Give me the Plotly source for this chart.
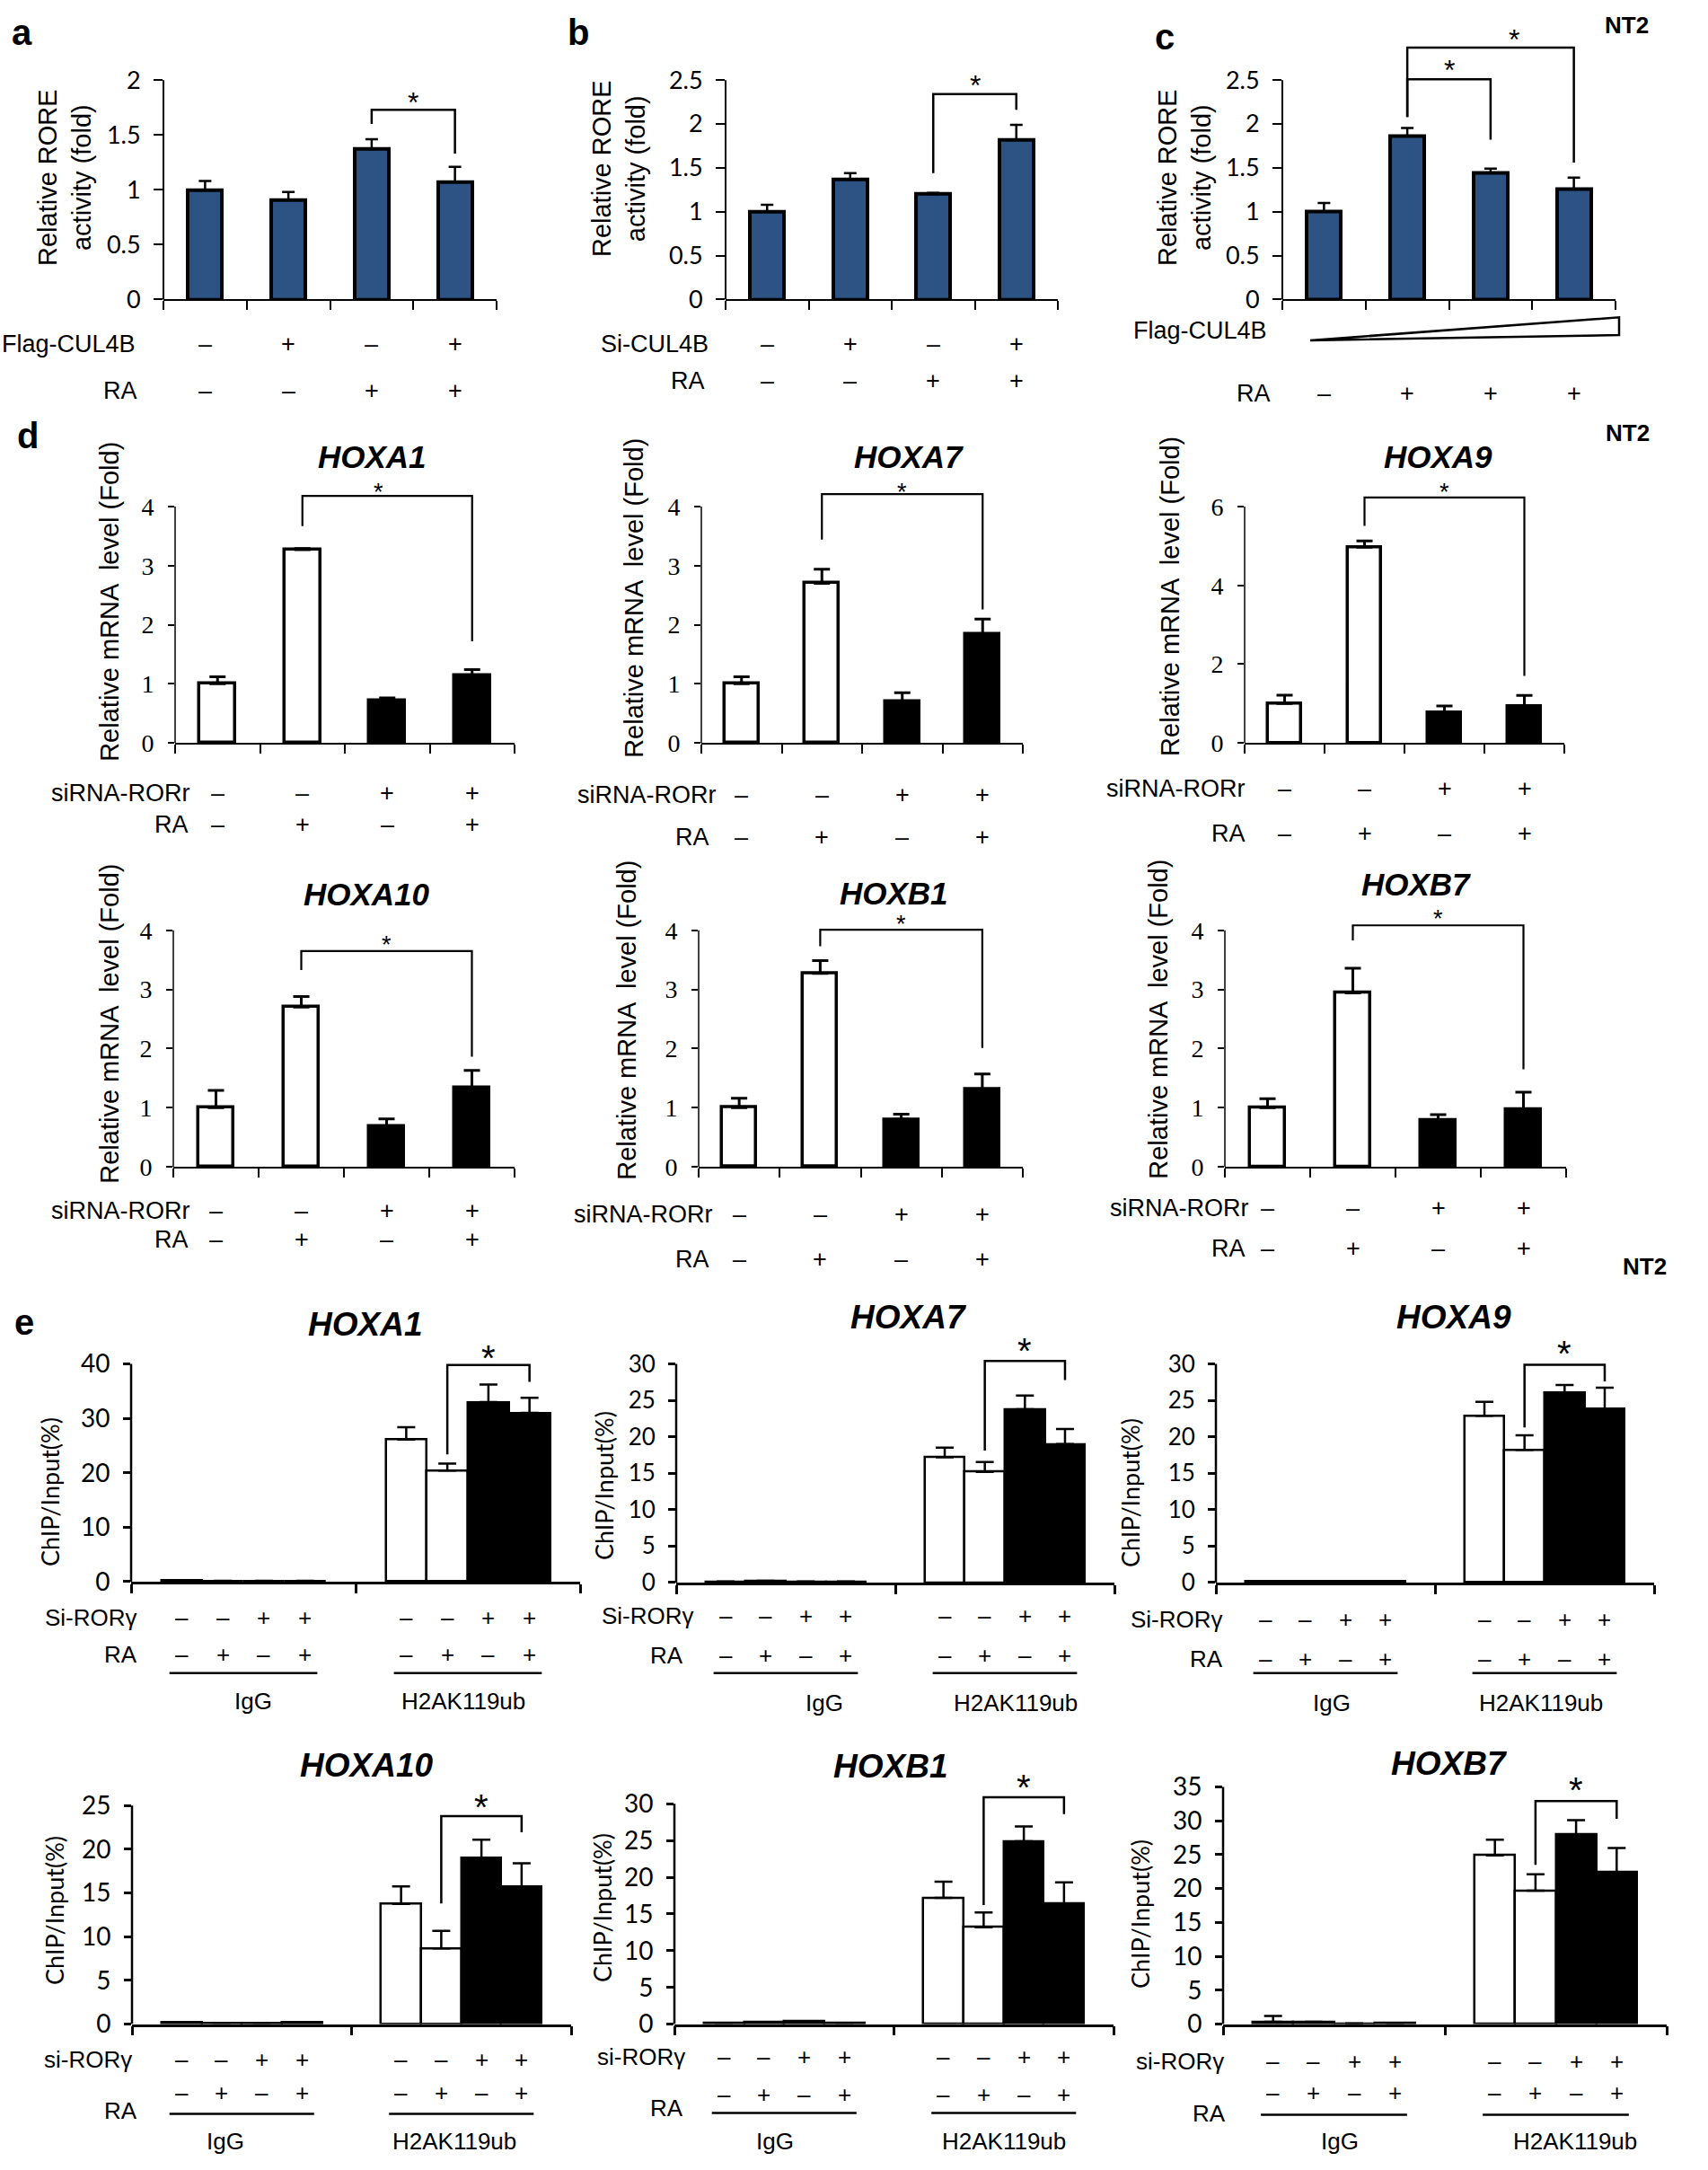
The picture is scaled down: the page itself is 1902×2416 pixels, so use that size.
import plotly.graph_objects as go

W, H = 1902, 2416

# ---------------- data ----------------
# panel a-c: RORE luciferase activity
rore_a = [1.00, 0.91, 1.37, 1.07]
rore_a_err = [0.08, 0.07, 0.09, 0.14]
rore_b = [1.00, 1.37, 1.20, 1.82]
rore_b_err = [0.08, 0.07, 0.015, 0.17]
rore_c = [1.00, 1.865, 1.44, 1.26]
rore_c_err = [0.10, 0.09, 0.05, 0.13]

# panel d: relative mRNA level
mrna_hoxa1 = [1.00, 3.27, 0.71, 1.14]
mrna_hoxa1_err = [0.12, 0.02, 0.05, 0.10]
mrna_hoxa7 = [1.00, 2.70, 0.70, 1.845]
mrna_hoxa7_err = [0.12, 0.24, 0.15, 0.25]
mrna_hoxa9 = [1.00, 4.97, 0.77, 0.925]
mrna_hoxa9_err = [0.21, 0.16, 0.17, 0.28]
mrna_hoxa10 = [1.00, 2.70, 0.68, 1.34]
mrna_hoxa10_err = [0.29, 0.18, 0.13, 0.29]
mrna_hoxb1 = [1.00, 3.27, 0.80, 1.31]
mrna_hoxb1_err = [0.16, 0.22, 0.09, 0.26]
mrna_hoxb7 = [1.00, 2.94, 0.78, 0.97]
mrna_hoxb7_err = [0.15, 0.42, 0.10, 0.29]

# panel e: ChIP/Input (%)
chip_hoxa1_igg = [0.30, 0.15, 0.15, 0.15]
chip_hoxa1_igg_err = [0, 0, 0, 0]
chip_hoxa1_h2a = [26.1, 20.4, 33.0, 31.0]
chip_hoxa1_h2a_err = [2.3, 1.3, 3.2, 2.8]
chip_hoxa7_igg = [0.15, 0.25, 0.15, 0.15]
chip_hoxa7_igg_err = [0, 0, 0, 0]
chip_hoxa7_h2a = [17.2, 15.2, 23.8, 19.0]
chip_hoxa7_h2a_err = [1.3, 1.35, 1.85, 2.06]
chip_hoxa9_igg = [0.15, 0.15, 0.15, 0.20]
chip_hoxa9_igg_err = [0, 0, 0, 0]
chip_hoxa9_h2a = [22.9, 18.2, 26.1, 23.8]
chip_hoxa9_h2a_err = [1.9, 2.0, 1.0, 2.95]
chip_hoxa10_igg = [0.25, 0.15, 0.15, 0.20]
chip_hoxa10_igg_err = [0, 0, 0, 0]
chip_hoxa10_h2a = [13.75, 8.67, 19.0, 15.7]
chip_hoxa10_h2a_err = [2.0, 2.0, 2.1, 2.7]
chip_hoxb1_igg = [0.15, 0.25, 0.40, 0.15]
chip_hoxb1_igg_err = [0, 0, 0, 0]
chip_hoxb1_h2a = [17.2, 13.2, 24.9, 16.4]
chip_hoxb1_h2a_err = [2.2, 2.0, 2.0, 2.9]
chip_hoxb7_igg = [0.35, 0.35, 0.10, 0.15]
chip_hoxb7_igg_err = [0.85, 0, 0, 0]
chip_hoxb7_h2a = [24.9, 19.7, 28.0, 22.4]
chip_hoxb7_h2a_err = [2.3, 2.4, 2.1, 3.6]

# condition sign rows
signs_flag_a = ["–", "+", "–", "+"]
signs_ra_a = ["–", "–", "+", "+"]
signs_si_b = ["–", "+", "–", "+"]
signs_ra_b = ["–", "–", "+", "+"]
signs_ra_c = ["–", "+", "+", "+"]
signs_sirna_d = ["–", "–", "+", "+"]
signs_ra_d = ["–", "+", "–", "+"]
signs_si_e = ["–", "–", "+", "+"]
signs_ra_e = ["–", "+", "–", "+"]
groups_e = ["IgG", "H2AK119ub"]

# tick values
ticks_a = [0, 0.5, 1, 1.5, 2]
ticks_bc = [0, 0.5, 1, 1.5, 2, 2.5]
ticks_d = [0, 1, 2, 3, 4]
ticks_d_hoxa9 = [0, 2, 4, 6]
ticks_e40 = [0, 10, 20, 30, 40]
ticks_e30 = [0, 5, 10, 15, 20, 25, 30]
ticks_e25 = [0, 5, 10, 15, 20, 25]
ticks_e35 = [0, 5, 10, 15, 20, 25, 30, 35]

# significance brackets:
# (left bar, right bar, top, left-leg end, right-leg end, star height, star x offset)
br_a = [(2, 3, 1.73, 1.60, 1.33, 1.86, 0)]
br_b = [(2, 3, 2.34, 1.44, 2.16, 2.52, 0)]
br_c = [(1, 2, 2.51, 2.08, 1.82, 2.69, 0), (1, 3, 2.87, 2.08, 1.56, 3.04, 0.28)]
br_d_hoxa1 = [(1, 3, 4.18, 3.67, 1.72, 4.34, -0.1)]
br_d_hoxa7 = [(1, 3, 4.21, 3.44, 2.26, 4.34, 0)]
br_d_hoxa9 = [(1, 3, 6.23, 5.51, 1.70, 6.52, 0)]
br_d_hoxa10 = [(1, 3, 3.65, 3.33, 1.86, 3.86, 0)]
br_d_hoxb1 = [(1, 3, 4.01, 3.73, 2.01, 4.21, 0)]
br_d_hoxb7 = [(1, 3, 4.085, 3.83, 1.65, 4.29, 0)]
br_e_hoxa1 = [(5, 7, 39.8, 23.4, 36.7, 42.7, 0)]
br_e_hoxa7 = [(5, 7, 30.4, 18.1, 27.8, 33.0, 0)]
br_e_hoxa9 = [(5, 7, 29.9, 21.3, 27.6, 32.6, 0)]
br_e_hoxa10 = [(5, 7, 23.8, 13.8, 21.95, 25.85, 0)]
br_e_hoxb1 = [(5, 7, 30.9, 16.2, 28.6, 33.4, 0)]
br_e_hoxb7 = [(5, 7, 32.9, 23.5, 30.3, 35.8, 0)]

# ---------------- styling / geometry ----------------
SANS = "Liberation Sans, Arial, sans-serif"
CAL = "Lato, Liberation Sans, sans-serif"
SERIF = "Liberation Serif, Times New Roman, serif"
BLUE = "#2c5384"
EW = 0.183  # bar width in group units (panel e)


def fx(p):
    return p / W


def fy(p):
    return 1 - p / H


layout = dict(width=W, height=H, margin=dict(l=0, r=0, t=0, b=0),
              paper_bgcolor="white", plot_bgcolor="white", showlegend=False,
              font=dict(family=SANS, color="black", size=24), bargap=0)
shapes, annotations, traces = [], [], []


def ids(n):
    return ("x" if n == 1 else f"x{n}"), ("y" if n == 1 else f"y{n}")


def keys(n):
    return ("xaxis" if n == 1 else f"xaxis{n}"), ("yaxis" if n == 1 else f"yaxis{n}")


def top_of(ticks, brs):
    return max([ticks[-1]] + [b[2] for b in brs] + [b[5] for b in brs]) * 1.03


def setup_axes(n, g, ticks, R, tickfont, xrange, xtickvals, lw, yticklen, standoff):
    xid, yid = ids(n)
    xk, yk = keys(n)
    T = ticks[-1]
    d0 = fy(g["y0"])
    d1 = fy(g["y0"] - (g["y0"] - g["yT"]) * R / T)
    layout[xk] = dict(domain=[fx(g["xl"]), fx(g["xr"])], anchor=yid, range=xrange,
                      showline=True, linecolor="black", linewidth=lw, ticks="outside",
                      tickvals=xtickvals, ticklen=10, tickwidth=lw, tickcolor="black",
                      showticklabels=False, showgrid=False, zeroline=False, fixedrange=True)
    layout[yk] = dict(domain=[d0, d1], anchor=xid, range=[0, R], showline=False,
                      ticks="outside", tickvals=ticks, ticktext=[f"{v:g}" for v in ticks],
                      ticklen=yticklen, tickwidth=lw, tickcolor="black", tickfont=tickfont,
                      showgrid=False, zeroline=False, ticklabelstandoff=standoff,
                      fixedrange=True)
    shapes.append(dict(type="line", xref=xid + " domain", yref=yid, x0=0, x1=0, y0=0, y1=T,
                       line=dict(color="black", width=lw), layer="above"))


def add_brackets(n, xs, brs, lw, star_size, star_font):
    xid, yid = ids(n)
    for (i, j, top, yl, yr, ys, sdx) in brs:
        xa, xb = xs[i], xs[j]
        shapes.append(dict(type="path", xref=xid, yref=yid,
                           path=f"M {xa},{yl} L {xa},{top} L {xb},{top} L {xb},{yr}",
                           line=dict(color="black", width=lw)))
        annotations.append(dict(x=(xa + xb) / 2 + sdx, y=ys, xref=xid, yref=yid, text="*",
                                showarrow=False, yanchor="middle", yshift=-0.24 * star_size,
                                font=dict(size=star_size, family=star_font)))


def add_text(x, y, text, size, xanchor="center", angle=0, family=SANS, xref="paper", xshift=0):
    annotations.append(dict(x=x, y=y, xref=xref, yref="paper", text=text, showarrow=False,
                            xanchor=xanchor, yanchor="middle", textangle=angle,
                            font=dict(size=size, family=family), xshift=xshift))


def add_row(n, xs, signs, y_sign, label, label_right, y_label, size):
    xid, _ = ids(n)
    add_text(fx(label_right), fy(y_label), label, size, xanchor="right")
    for x, s in zip(xs, signs):
        add_text(x, fy(y_sign), s, size, xref=xid)


# ---------------- panels a-c ----------------
cats4 = [0, 1, 2, 3]
bounds4 = [-0.5, 0.5, 1.5, 2.5, 3.5]

abc = [
    (1, dict(xl=182, xr=553, y0=327, yT=80), rore_a, rore_a_err, ticks_a, br_a),
    (2, dict(xl=808, xr=1178, y0=327, yT=80), rore_b, rore_b_err, ticks_bc, br_b),
    (3, dict(xl=1428, xr=1799, y0=327, yT=80), rore_c, rore_c_err, ticks_bc, br_c),
]
for n, g, vals, errs, ticks, brs in abc:
    R = top_of(ticks, brs)
    setup_axes(n, g, ticks, R, dict(family=CAL, size=27), [-0.5, 3.5], bounds4, 2, 10, 9)
    xid, yid = ids(n)
    traces.append(go.Bar(x=cats4, y=vals, width=0.41, xaxis=xid, yaxis=yid,
                         marker=dict(color=BLUE, line=dict(color="black", width=4)),
                         error_y=dict(type="data", array=errs, arrayminus=[0] * 4,
                                      symmetric=False, color="black", thickness=2.5, width=7)))
    add_brackets(n, cats4, brs, 2.5, 32, SANS)

# y titles a-c
add_text(fx(72), fy(190), "Relative RORE<br>activity (fold)", 29, angle=-90)
add_text(fx(689), fy(180), "Relative RORE<br>activity (fold)", 29, angle=-90)
add_text(fx(1319), fy(190), "Relative RORE<br>activity (fold)", 29, angle=-90)

# condition rows a-c
add_row(1, cats4, signs_flag_a, 377, "Flag-CUL4B", 153, 377, 27)
add_row(1, cats4, signs_ra_a, 430, "RA", 155, 430, 27)
add_row(2, cats4, signs_si_b, 377, "Si-CUL4B", 791, 377, 27)
add_row(2, cats4, signs_ra_b, 418, "RA", 787, 418, 27)
add_text(fx(1413), fy(362), "Flag-CUL4B", 27, xanchor="right")
shapes.append(dict(type="path", xref="paper", yref="paper",
                   path=f"M {fx(1459)},{fy(373)} L {fx(1803)},{fy(347)} L {fx(1803)},{fy(367)} Z",
                   line=dict(color="black", width=2.5), fillcolor="white"))
add_row(3, cats4, signs_ra_c, 433, "RA", 1417, 433, 27)

# ---------------- panel d ----------------
dpan = [
    (4, dict(xl=195, xr=573, y0=826, yT=560), mrna_hoxa1, mrna_hoxa1_err, ticks_d, br_d_hoxa1,
     "HOXA1", (414, 504), (122, 667), (214, 882, 212, 918)),
    (5, dict(xl=781, xr=1139, y0=826, yT=560), mrna_hoxa7, mrna_hoxa7_err, ticks_d, br_d_hoxa7,
     "HOXA7", (1012, 504), (706, 663), (800, 885, 792, 932)),
    (6, dict(xl=1386, xr=1742, y0=826, yT=560), mrna_hoxa9, mrna_hoxa9_err, ticks_d_hoxa9, br_d_hoxa9,
     "HOXA9", (1601, 504), (1303, 661), (1389, 877, 1389, 928)),
    (7, dict(xl=193, xr=573, y0=1303, yT=1037), mrna_hoxa10, mrna_hoxa10_err, ticks_d, br_d_hoxa10,
     "HOXA10", (408, 996), (122, 1142), (214, 1353, 212, 1385)),
    (8, dict(xl=778, xr=1139, y0=1303, yT=1037), mrna_hoxb1, mrna_hoxb1_err, ticks_d, br_d_hoxb1,
     "HOXB1", (996, 995), (698, 1138), (796, 1357, 792, 1407)),
    (9, dict(xl=1364, xr=1744, y0=1303, yT=1037), mrna_hoxb7, mrna_hoxb7_err, ticks_d, br_d_hoxb7,
     "HOXB7", (1577, 985), (1290, 1137), (1393, 1350, 1389, 1395)),
]
dcolors = ["white", "white", "black", "black"]
for n, g, vals, errs, ticks, brs, gene, tpos, ypos, rows in dpan:
    R = top_of(ticks, brs)
    setup_axes(n, g, ticks, R, dict(family=SERIF, size=28), [-0.5, 3.5], bounds4, 1.5, 7, 10)
    xid, yid = ids(n)
    traces.append(go.Bar(x=cats4, y=vals, width=0.42, xaxis=xid, yaxis=yid,
                         marker=dict(color=dcolors, line=dict(color="black", width=3.5)),
                         error_y=dict(type="data", array=errs, arrayminus=[0] * 4,
                                      symmetric=False, color="black", thickness=3, width=9)))
    add_brackets(n, cats4, brs, 2.2, 27, SANS)
    add_text(fx(tpos[0]), fy(tpos[1]), f"<b><i>{gene}</i></b>", 35)
    add_text(fx(ypos[0]), fy(ypos[1]), "Relative mRNA  level (Fold)", 29, angle=-90)
    add_row(n, cats4, signs_sirna_d, rows[1], "siRNA-RORr", rows[0], rows[1], 27)
    add_row(n, cats4, signs_ra_d, rows[3], "RA", rows[2], rows[3], 27)

# ---------------- panel e ----------------
ex = [gi + (i - 1.5) * EW for gi in range(2) for i in range(4)]
ecolors = ["white", "white", "black", "black"] * 2
epan = [
    (10, dict(xl=146, xr=646, y0=1770, yT=1525), chip_hoxa1_igg, chip_hoxa1_igg_err, chip_hoxa1_h2a,
     chip_hoxa1_h2a_err, ticks_e40, br_e_hoxa1, "HOXA1", (406, 1480), (55, 1669), "Si-RORγ",
     (155, 1810, 1852, 155, 1852, 1873, 1905), (11, -5), 28),
    (11, dict(xl=753, xr=1241, y0=1771, yT=1525), chip_hoxa7_igg, chip_hoxa7_igg_err, chip_hoxa7_h2a,
     chip_hoxa7_h2a_err, ticks_e30, br_e_hoxa7, "HOXA7", (1012, 1472), (672, 1662), "Si-RORγ",
     (775, 1808, 1853, 763, 1853, 1873, 1907), (43, 12), 26),
    (12, dict(xl=1354, xr=1842, y0=1771, yT=1525), chip_hoxa9_igg, chip_hoxa9_igg_err, chip_hoxa9_h2a,
     chip_hoxa9_h2a_err, ticks_e30, br_e_hoxa9, "HOXA9", (1619, 1472), (1258, 1670), "Si-RORγ",
     (1364, 1813, 1857, 1364, 1857, 1873, 1907), (7, -4), 26),
    (13, dict(xl=147, xr=636, y0=2268, yT=2022), chip_hoxa10_igg, chip_hoxa10_igg_err, chip_hoxa10_h2a,
     chip_hoxa10_h2a_err, ticks_e25, br_e_hoxa10, "HOXA10", (408, 1977), (61, 2140), "si-RORγ",
     (149, 2308, 2345, 155, 2365, 2369, 2400), (-18, -8), 28),
    (14, dict(xl=751, xr=1240, y0=2268, yT=2020), chip_hoxb1_igg, chip_hoxb1_igg_err, chip_hoxb1_h2a,
     chip_hoxb1_h2a_err, ticks_e30, br_e_hoxb1, "HOXB1", (991, 1978), (670, 2137), "si-RORγ",
     (765, 2305, 2347, 763, 2362, 2368, 2400), (-10, 0), 28),
    (15, dict(xl=1362, xr=1856, y0=2268, yT=2001), chip_hoxb7_igg, chip_hoxb7_igg_err, chip_hoxb7_h2a,
     chip_hoxb7_h2a_err, ticks_e35, br_e_hoxb7, "HOXB7", (1614, 1975), (1270, 2144), "si-RORγ",
     (1365, 2310, 2345, 1367, 2368, 2370, 2400), (6, 21), 28),
]
for (n, g, igg, igg_err, h2a, h2a_err, ticks, brs, gene, tpos, ypos, silabel, rows, gshift, tfs) in epan:
    R = top_of(ticks, brs)
    setup_axes(n, g, ticks, R, dict(family=CAL, size=tfs), [-0.5, 1.5], [-0.5, 0.5, 1.5], 2.5, 8, 9)
    xid, yid = ids(n)
    vals = igg + h2a
    errs = igg_err + h2a_err
    traces.append(go.Bar(x=ex, y=vals, width=EW, xaxis=xid, yaxis=yid,
                         marker=dict(color=ecolors, line=dict(color="black", width=2.5)),
                         error_y=dict(type="data", array=errs, arrayminus=[0] * 8,
                                      symmetric=False, color="black", thickness=2.5, width=10)))
    add_brackets(n, ex, brs, 2.5, 40, SANS)
    add_text(fx(tpos[0]), fy(tpos[1]), f"<b><i>{gene}</i></b>", 37)
    add_text(fx(ypos[0]), fy(ypos[1]), "ChIP/Input(%)", 27, angle=-90, family=CAL)
    si_right, si_y, ra_sy, ra_right, ra_ly, ul_y, grp_y = rows
    add_row(n, ex, signs_si_e * 2, si_y, silabel, si_right, si_y, 26)
    add_row(n, ex, signs_ra_e * 2, ra_sy, "RA", ra_right, ra_ly, 26)
    for gi, name in enumerate(groups_e):
        shapes.append(dict(type="line", xref=xid, yref="paper",
                           x0=gi - 1.5 * EW - 0.3 * EW, x1=gi + 1.5 * EW + 0.3 * EW,
                           y0=fy(ul_y), y1=fy(ul_y), line=dict(color="black", width=2.5)))
        add_text(gi, fy(grp_y), name, 26, xref=xid, xshift=gshift[gi])

# ---------------- panel letters & NT2 ----------------
for letter, (px, py) in {"a": (24, 26), "b": (644, 26), "c": (1297, 31),
                         "d": (31, 480), "e": (27, 1478)}.items():
    add_text(fx(px), fy(py), f"<b>{letter}</b>", 40)
for px, py in [(1811, 18), (1812, 477), (1831, 1415)]:
    add_text(fx(px), fy(py), "<b>NT2</b>", 26)

layout["shapes"] = shapes
layout["annotations"] = annotations
fig = go.Figure(data=traces, layout=layout)
fig.write_html("out.html", config={"displayModeBar": False},
               post_script="document.body.style.margin='0px';")
